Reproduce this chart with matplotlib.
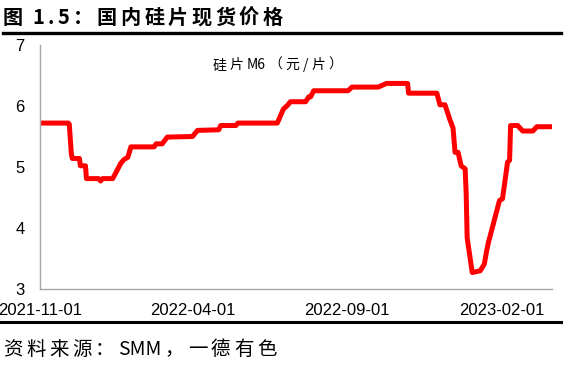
import re
import pandas as pd
import matplotlib
matplotlib.use('Agg')
import matplotlib.pyplot as plt
import matplotlib.dates as mdates
from matplotlib.lines import Line2D

# M6 wafer spot price, yuan per piece
dates = ['2021-11-02', '2021-11-29', '2021-11-30', '2021-12-02', '2021-12-03',
         '2021-12-10', '2021-12-11', '2021-12-16', '2021-12-17', '2021-12-29',
         '2021-12-31', '2022-01-02', '2022-01-12', '2022-01-20', '2022-01-23',
         '2022-01-27', '2022-01-30', '2022-02-22', '2022-02-24', '2022-03-02',
         '2022-03-07', '2022-04-01', '2022-04-06', '2022-04-27', '2022-04-29',
         '2022-05-14', '2022-05-16', '2022-06-24', '2022-06-30', '2022-07-04',
         '2022-07-07', '2022-07-22', '2022-07-25', '2022-07-27', '2022-07-30',
         '2022-09-02', '2022-09-06', '2022-10-02', '2022-10-10', '2022-10-31',
         '2022-11-01', '2022-11-29', '2022-12-02', '2022-12-07', '2022-12-12',
         '2022-12-15', '2022-12-17', '2022-12-20', '2022-12-23', '2022-12-27',
         '2022-12-28', '2022-12-29', '2023-01-03', '2023-01-11', '2023-01-15',
         '2023-01-17', '2023-01-19', '2023-01-30', '2023-02-02', '2023-02-04',
         '2023-02-07', '2023-02-09', '2023-02-10', '2023-02-17', '2023-02-22',
         '2023-03-04', '2023-03-08', '2023-03-23']
prices = [5.72, 5.72, 5.70, 5.22, 5.14,
          5.14, 5.02, 5.02, 4.81, 4.81,
          4.77, 4.81, 4.81, 5.06, 5.12,
          5.16, 5.33, 5.33, 5.38, 5.38,
          5.49, 5.50, 5.60, 5.61, 5.68,
          5.68, 5.72, 5.72, 5.95, 6.01,
          6.07, 6.07, 6.15, 6.15, 6.25,
          6.25, 6.31, 6.31, 6.37, 6.37,
          6.21, 6.21, 6.02, 6.02, 5.77,
          5.64, 5.24, 5.24, 5.02, 4.97,
          4.57, 3.84, 3.27, 3.30, 3.41,
          3.60, 3.76, 4.45, 4.48, 4.72,
          5.08, 5.11, 5.68, 5.68, 5.59,
          5.59, 5.66, 5.66]

tick_dates = ['2021-11-01', '2022-04-01', '2022-09-01', '2023-02-01']
y_ticks = [3, 4, 5, 6, 7]

title = '图 1.5：国内硅片现货价格'
series_name = '硅片M6（元/片）'
source = '资料来源：SMM，一德有色'

W, H = 567, 365
CJK = ['Noto Sans CJK SC', 'DejaVu Sans']


def spaced_text(fig, x, y, s, gap, space=5, **kw):
    # draw text piece by piece (pixel coords, y from top) to mimic letter spacing;
    # runs of latin letters stay together
    renderer = fig.canvas.get_renderer()
    for tok in re.findall(r'[A-Za-z]+[0-9]*|.', s):
        if tok == ' ':
            x += space
            continue
        t = fig.text(x / W, 1 - y / H, tok, ha='left', va='baseline', **kw)
        x += t.get_window_extent(renderer).width + gap
    return x


def main():
    fig = plt.figure(figsize=(W / 100, H / 100), dpi=100)
    ax = fig.add_axes([40 / W, 1 - 289 / H, (552 - 40) / W, (289 - 45) / H])

    x = pd.to_datetime(dates)
    ax.plot(x, prices, color='#FF0000', lw=3.6, solid_joinstyle='round')

    ax.set_xlim(pd.Timestamp(tick_dates[0]), x[-1])
    ax.set_ylim(y_ticks[0], y_ticks[-1])
    ax.set_yticks(y_ticks)
    ax.set_xticks(pd.to_datetime(tick_dates))
    ax.xaxis.set_major_formatter(mdates.DateFormatter('%Y-%m-%d'))

    for side in ['top', 'right']:
        ax.spines[side].set_visible(False)
    for side in ['left', 'bottom']:
        ax.spines[side].set_color('#A6A6A6')
        ax.spines[side].set_linewidth(1.0)

    ax.tick_params(axis='both', length=0, labelsize=12, colors='black')
    ax.tick_params(axis='y', pad=11)
    ax.tick_params(axis='x', pad=10)
    for lab in ax.get_xticklabels() + ax.get_yticklabels():
        lab.set_fontfamily('Liberation Sans')

    # header / footer rules
    fig.add_artist(Line2D([3 / W, 561 / W], [1 - 33 / H] * 2,
                          transform=fig.transFigure, color='black', lw=2.4))
    fig.add_artist(Line2D([0, 561 / W], [1 - 322 / H] * 2,
                          transform=fig.transFigure, color='black', lw=2.2))

    spaced_text(fig, 3, 23.5, title, gap=3.5, space=6, fontsize=14.5,
                family=CJK, fontweight='bold')
    spaced_text(fig, 3, 355, source, gap=3.5, fontsize=14, family=CJK)
    spaced_text(fig, 213, 69, series_name, gap=3, fontsize=10, family=CJK)

    fig.savefig('out.png', dpi=100)


if __name__ == '__main__':
    main()
